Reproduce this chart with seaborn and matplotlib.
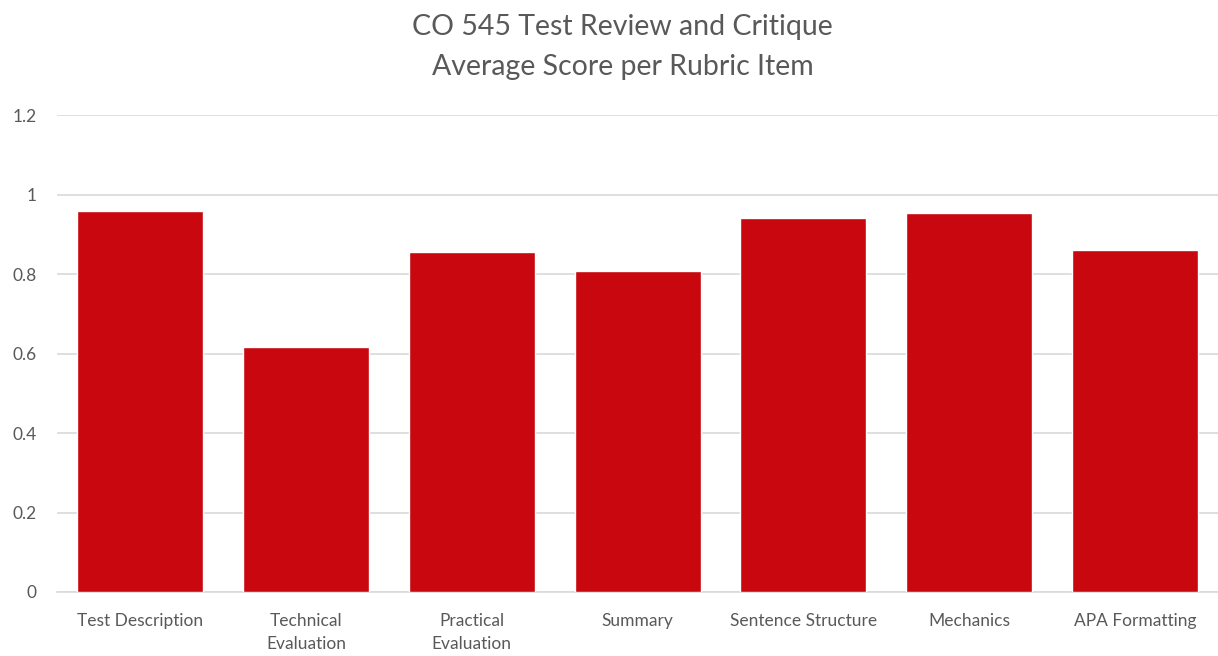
import matplotlib
matplotlib.use("Agg")
import matplotlib.pyplot as plt
import seaborn as sns
import pandas as pd

# Rubric items and their average scores
categories = [
    "Test Description",
    "Technical\nEvaluation",
    "Practical\nEvaluation",
    "Summary",
    "Sentence Structure",
    "Mechanics",
    "APA Formatting",
]
scores = [0.96, 0.617, 0.855, 0.808, 0.943, 0.955, 0.861]
y_ticks = [0, 0.2, 0.4, 0.6, 0.8, 1, 1.2]
y_tick_labels = ["0", "0.2", "0.4", "0.6", "0.8", "1", "1.2"]

sns.set_theme(style="white")
plt.rcParams["font.family"] = ["Lato", "DejaVu Sans"]

text_color = "#595959"
grid_color = "#D9D9D9"
bar_color = "#C8070F"

df = pd.DataFrame({"item": categories, "score": scores})

fig = plt.figure(figsize=(12.18, 6.56), dpi=100)
ax = fig.add_axes([0.047, 0.0976, 0.953, 0.7264])

sns.barplot(data=df, x="item", y="score", color=bar_color, saturation=1,
            width=0.76, ax=ax, zorder=3)

ax.set_ylim(0, 1.2)
ax.set_xlim(-0.5, len(categories) - 0.5)
ax.set_yticks(y_ticks)
ax.set_yticklabels(y_tick_labels)
ax.yaxis.grid(True, color=grid_color, linewidth=1.2, zorder=0)
ax.set_axisbelow(True)
for side in ["top", "right", "left"]:
    ax.spines[side].set_visible(False)
ax.spines["bottom"].set_color(grid_color)
ax.spines["bottom"].set_linewidth(1.2)

ax.tick_params(axis="y", length=0, pad=15, labelsize=12.5, labelcolor=text_color)
ax.tick_params(axis="x", length=0, pad=15, labelsize=12.5, labelcolor=text_color)
for lbl in ax.get_xticklabels():
    lbl.set_linespacing(1.55)
    lbl.set_verticalalignment("top")

ax.set_xlabel("")
ax.set_ylabel("")

fig.text(0.511, 0.959, "CO 545 Test Review and Critique", ha="center", va="center",
         fontsize=20.5, color=text_color)
fig.text(0.511, 0.898, "Average Score per Rubric Item", ha="center", va="center",
         fontsize=20.5, color=text_color)

fig.savefig("out.png", dpi=100)
